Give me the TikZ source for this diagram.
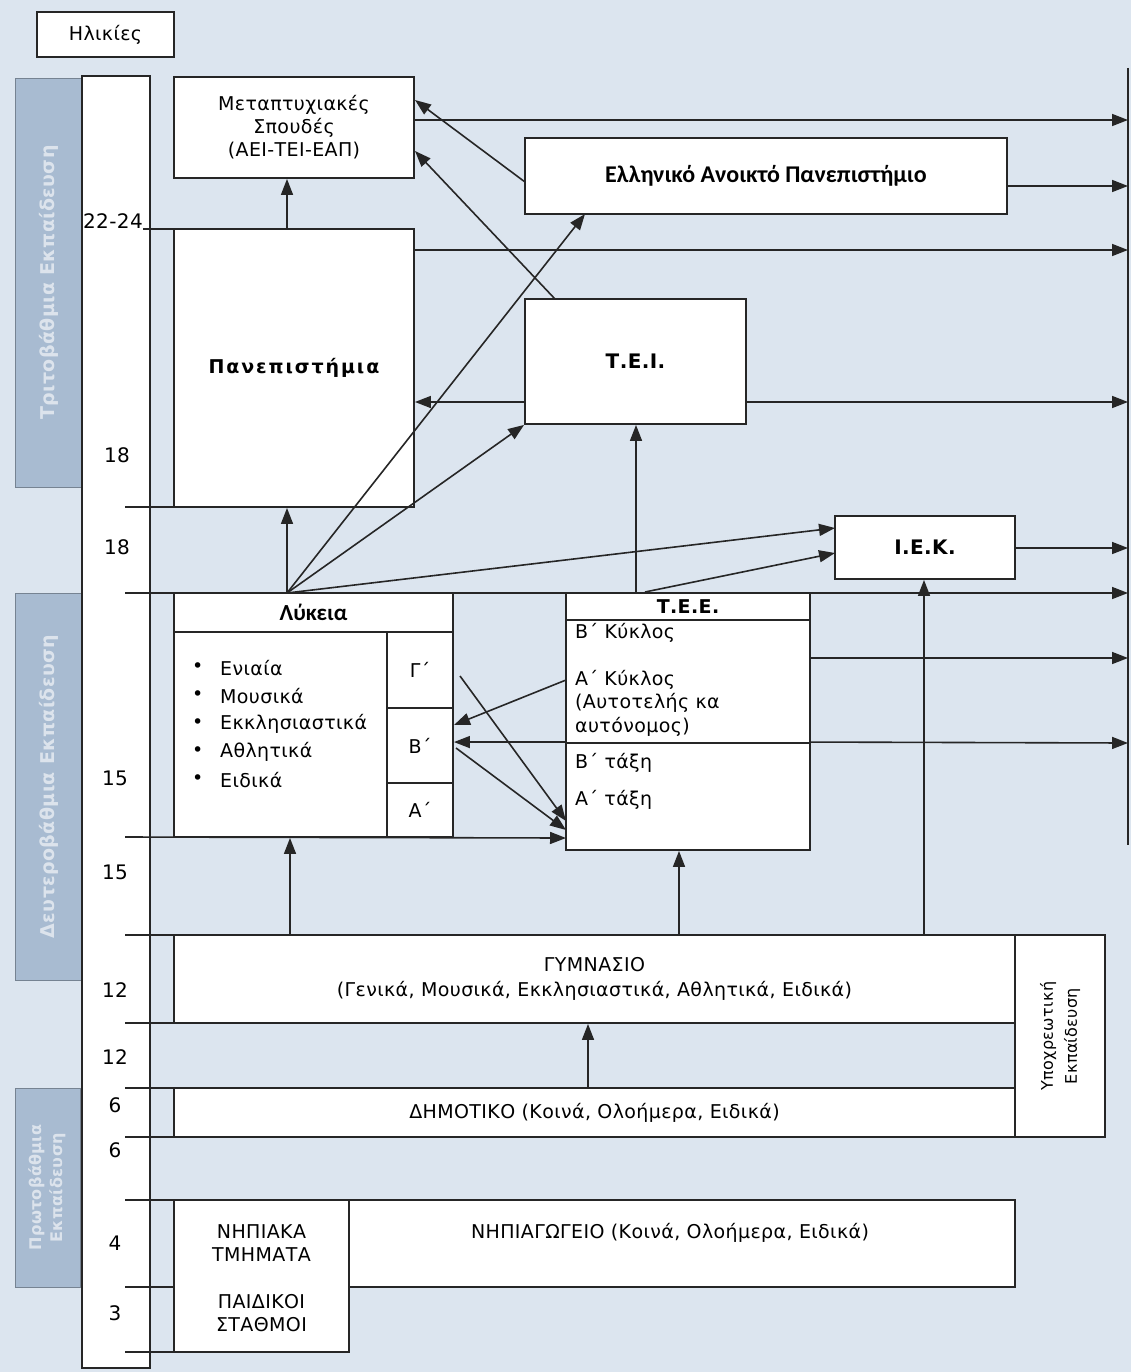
\documentclass[tikz,border=0pt]{standalone}
\usepackage{fontspec}
\setmainfont{DejaVu Sans}[LetterSpace=2]
\newfontfamily\calb{Carlito}
\usetikzlibrary{arrows.meta,calc}
\definecolor{bgc}{HTML}{DCE5EF}
\definecolor{bandc}{HTML}{A8BBD1}
\begin{document}
\begin{tikzpicture}[x=1pt,y=-1pt,
  every node/.style={font=\fontsize{19}{23}\selectfont},
  box/.style={draw=black!85, fill=white, line width=1.9pt, inner sep=0pt, align=center},
  ln/.style={line width=1.8pt, draw=black!85},
  arr/.style={line width=1.6pt, draw=black!85, -{Triangle[length=16pt,width=12pt]}},
  band/.style={draw=bandc!70!black, line width=0.8pt, fill=bandc, inner sep=0pt},
  bandtxt/.style={text=white, text opacity=0.6, font=\fontsize{19}{24}\bfseries\selectfont, rotate=90, align=center},
  agetxt/.style={font=\fontsize{20}{22}\selectfont},
  lft/.style={anchor=west, inner sep=0pt}
]
\useasboundingbox (0,0) rectangle (1131,1372);
\fill[bgc] (0,0) rectangle (1131,1372);

% left bands
\node[band, minimum width=67, minimum height=409] (b1) at (48.5,282.5) {};
\node[band, minimum width=67, minimum height=387] (b2) at (48.5,786.5) {};
\node[band, minimum width=65, minimum height=199] (b3) at (47.5,1187.5) {};
\node[bandtxt] (b1t) at (b1) {Τριτοβάθμια Εκπαίδευση};
\node[bandtxt] (b2t) at (b2) {Δευτεροβάθμια Εκπαίδευση};
\node[bandtxt, font=\fontsize{16}{21}\bfseries\selectfont] (b3t) at (b3) {Πρωτοβάθμια\\Εκπαίδευση};

% age column
\node[box, line width=1.5pt, minimum width=68, minimum height=1292] (col) at (116,722) {};
\node[box, minimum width=137, minimum height=45] (ages) at (105.5,34.5) {Ηλικίες};

% right vertical line
\coordinate (rtop) at (1128,68);
\coordinate (rbot) at (1128,845);
\draw[ln] (rtop) -- (rbot);

% age horizontal lines (left stubs)
\coordinate (l229) at (143,229);
\coordinate (l507) at (125,507);
\coordinate (l593) at (125,593);
\coordinate (l837) at (125,837);
\coordinate (l935) at (125,935);
\coordinate (l1023) at (125,1023);
\coordinate (l1088) at (125,1088);
\coordinate (l1137) at (125,1137);
\coordinate (l1200) at (125,1200);
\coordinate (l1287) at (125,1287);
\coordinate (l1352) at (125,1352);

% boxes
\node[box, minimum width=240, minimum height=101] (meta) at (294,127.5)
  {Μεταπτυχιακές\\Σπουδές\\(ΑΕΙ-ΤΕΙ-ΕΑΠ)};
\node[box, minimum width=482, minimum height=76] (eap) at (766,176)
  {\calb\bfseries\fontsize{24}{26}\selectfont Ελληνικό Ανοικτό Πανεπιστήμιο};
\node[box, minimum width=240, minimum height=278] (pan) at (294,368)
  {\bfseries\addfontfeature{LetterSpace=10}\fontsize{19}{22}\selectfont Πανεπιστήμια};
\node[box, minimum width=221, minimum height=125] (tei) at (635.5,361.5)
  {\bfseries\fontsize{20}{22}\selectfont Τ.Ε.Ι.};
\node[box, minimum width=180, minimum height=63] (iek) at (925,547.5)
  {\bfseries\fontsize{20}{22}\selectfont Ι.Ε.Κ.};

% Lykeia
\node[box, minimum width=279, minimum height=39] (lykh) at (313.5,612.5)
  {\calb\bfseries\fontsize{23}{24}\selectfont Λύκεια};
\node[box, minimum width=213, minimum height=205] (lykb) at (280.5,734.5) {};
\node[box, minimum width=66, minimum height=76] (lykG) at (420,670) {Γ΄};
\node[box, minimum width=66, minimum height=75] (lykB) at (420,745.5) {Β΄};
\node[box, minimum width=66, minimum height=54] (lykA) at (420,810) {Α΄};
\foreach \t [count=\i] in {Ενιαία,Μουσικά,Εκκλησιαστικά,Αθλητικά,Ειδικά}{
  \node[lft] (bul\i) at (192,640+28*\i) {•};
  \node[lft] (itm\i) at (220,640+28*\i) {\t};
}

% TEE
\node[box, minimum width=244, minimum height=27] (teeh) at (688,606.5)
  {\bfseries\fontsize{19}{20}\selectfont Τ.Ε.Ε.};
\node[box, minimum width=244, minimum height=123] (teeu) at (688,681.5) {};
\node[box, minimum width=244, minimum height=107] (teel) at (688,796.5) {};
\node[lft] (t1) at (575,633) {Β΄ Κύκλος};
\node[lft] (t2) at (575,680) {Α΄ Κύκλος};
\node[lft] (t3) at (575,703) {(Αυτοτελής κα};
\node[lft] (t4) at (575,727) {αυτόνομος)};
\node[lft] (t5) at (575,763) {Β΄ τάξη};
\node[lft] (t6) at (575,800) {Α΄ τάξη};

% lower boxes
\draw[ln] (l935) -- (174,935);
\draw[ln] (l1023) -- (174,1023);
\draw[ln] (l1088) -- (174,1088);
\draw[ln] (l1137) -- (174,1137);
\draw[ln] (l1200) -- (174,1200);
\draw[ln] (l1287) -- (174,1287);
\draw[ln] (l1352) -- (174,1352);
\draw[ln] (l229) -- (174,229);
\draw[ln] (l507) -- (174,507);

\node[box, minimum width=841, minimum height=88] (gym) at (594.5,979)
  {ΓΥΜΝΑΣΙΟ\\[2pt](Γενικά, Μουσικά, Εκκλησιαστικά, Αθλητικά, Ειδικά)};
\node[box, minimum width=90, minimum height=202] (ypo) at (1060,1036) {};
\node[rotate=90, align=center, font=\fontsize{16}{24}\selectfont] (ypot) at (ypo) {Υποχρεωτική\\Εκπαίδευση};
\node[box, minimum width=841, minimum height=49] (dim) at (594.5,1112.5)
  {ΔΗΜΟΤΙΚΟ (Κοινά, Ολοήμερα, Ειδικά)};
\node[box, minimum width=175, minimum height=152] (nip1) at (261.5,1276) {};
\node[align=center] (nip1a) at (261.5,1243) {ΝΗΠΙΑΚΑ\\ΤΜΗΜΑΤΑ};
\node[align=center] (nip1b) at (261.5,1313) {ΠΑΙΔΙΚΟΙ\\ΣΤΑΘΜΟΙ};
\node[box, minimum width=666, minimum height=87] (nip2) at (682,1243.5) {};
\node (nip2t) at (670,1233) {ΝΗΠΙΑΓΩΓΕΙΟ (Κοινά, Ολοήμερα, Ειδικά)};

% age labels
\node[agetxt] (a1) at (113,221) {22-24};
\node[agetxt] (a2) at (117,455) {18};
\node[agetxt] (a3) at (117,547) {18};
\node[agetxt] (a4) at (115,778) {15};
\node[agetxt] (a5) at (115,872) {15};
\node[agetxt] (a6) at (115,990) {12};
\node[agetxt] (a7) at (115,1057) {12};
\node[agetxt] (a8) at (115,1105) {6};
\node[agetxt] (a9) at (115,1150) {6};
\node[agetxt] (a10) at (115,1243) {4};
\node[agetxt] (a11) at (115,1313) {3};

% right-going arrows
\coordinate (r120) at (1128,120);
\coordinate (r186) at (1128,186);
\coordinate (r250) at (1128,250);
\coordinate (r402) at (1128,402);
\coordinate (r548) at (1128,548);
\coordinate (r593) at (1128,593);
\coordinate (r658) at (1128,658);
\coordinate (r743) at (1128,743);
\draw[arr] (meta.east |- r120) -- (r120);
\draw[arr] (eap.east |- r186) -- (r186);
\draw[arr] (pan.east |- r250) -- (r250);
\draw[arr] (tei.east |- r402) -- (r402);
\draw[arr] (tei.west |- r402) -- (pan.east |- r402);
\draw[arr] (iek.east |- r548) -- (r548);
\draw[arr] (l593) -- (r593);
\draw[arr] (teeu.east |- r658) -- (r658);
\draw[arr] (teel.north east) -- (r743);
\draw[arr] (teel.north west) -- (lykB.east |- teel.north west);

% diagonal / vertical arrows
\coordinate (lyktop) at (287,593);
\coordinate (teetop) at (636,593);
\coordinate (teetop2) at (645,592);
\coordinate (eapin) at (585,214);
\coordinate (iekin1) at (835,528);
\coordinate (iekin2) at (835,553);
\coordinate (teitop) at (555,299);
\coordinate (eapout) at (525,182);
\coordinate (metain1) at (415,100);
\coordinate (metain2) at (415,151);
\draw[arr] (pan.north -| lyktop) -- (meta.south -| lyktop);
\draw[arr] (lyktop) -- (pan.south -| lyktop);
\draw[arr] (lyktop) -- (eapin);
\draw[arr] (lyktop) -- (tei.south west);
\draw[arr] (lyktop) -- (iekin1);
\draw[arr] (teetop2) -- (iekin2);
\draw[arr] (teetop) -- (tei.south -| teetop);
\draw[arr] (teitop) -- (metain2);
\draw[arr] (eapout) -- (metain1);

% Lykeia <-> TEE
\coordinate (teeA) at (566,680);
\coordinate (lykBin) at (454,725);
\coordinate (gout) at (460,676);
\coordinate (bout) at (456,748);
\coordinate (teein1) at (566,821);
\coordinate (teein2) at (566,830);
\coordinate (teein3) at (566,838);
\draw[arr] (teeA) -- (lykBin);
\draw[arr] (gout) -- (teein1);
\draw[arr] (bout) -- (teein2);
\draw[arr] (l837) -- (teein3);

% upward arrows from lower levels
\coordinate (g1) at (290,935);
\coordinate (g2) at (679,935);
\coordinate (g3) at (924,935);
\coordinate (d1) at (588,1088);
\draw[arr] (g1) -- (lykb.south -| g1);
\draw[arr] (g2) -- (teel.south -| g2);
\draw[arr] (g3) -- (iek.south -| g3);
\draw[arr] (d1) -- (gym.south -| d1);
\end{tikzpicture}
\end{document}
